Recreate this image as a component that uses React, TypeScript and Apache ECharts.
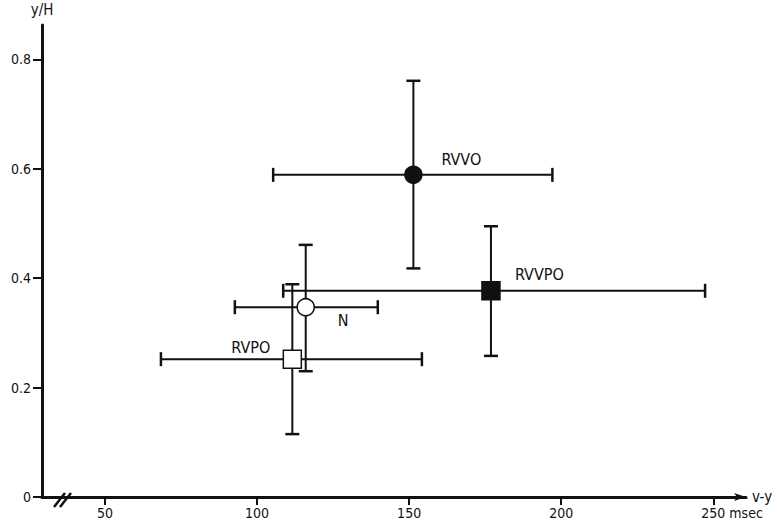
import React, { useEffect, useRef } from "react";
import * as echarts from "echarts";

// Group means with their ranges (v-y interval in msec, y/H ratio)
const groups = ["RVVO", "RVVPO", "N", "RVPO"];
const meanX = [151.4, 176.9, 116.0, 111.6];
const meanY = [0.589, 0.377, 0.347, 0.252];
const xLow = [105.3, 108.6, 92.7, 68.4];
const xHigh = [197.1, 247.3, 139.7, 154.2];
const yLow = [0.418, 0.258, 0.23, 0.115];
const yHigh = [0.761, 0.495, 0.461, 0.389];
const markerShape = ["circle", "square", "circle", "square"];
const markerFilled = [true, true, false, false];

const xTicks = [50, 100, 150, 200, 250];
const yTicks = [0, 0.2, 0.4, 0.6, 0.8];

const FONT = "'DejaVu Sans Condensed', 'Liberation Sans Narrow', sans-serif";
const INK = "#111";

// label placement around each marker: [dx, dy, align]
const labelPlacement: Record<string, [number, number, string]> = {
  RVVO: [28, -15, "left"],
  RVVPO: [24, -16, "left"],
  N: [32, 13, "left"],
  RVPO: [-22, -12, "right"],
};

export default function App() {
  const ref = useRef<HTMLDivElement>(null);

  useEffect(() => {
    document.body.style.margin = "0";
    if (!ref.current) return;
    const chart = echarts.init(ref.current, null, { renderer: "svg" });

    const rows = groups.map((g, i) => [
      meanX[i],
      meanY[i],
      xLow[i],
      xHigh[i],
      yLow[i],
      yHigh[i],
      i,
    ]);

    const CAP = 7;

    const errorBars = (params: any, api: any) => {
      const x = api.value(0);
      const y = api.value(1);
      const c = api.coord([x, y]);
      const l = api.coord([api.value(2), y]);
      const r = api.coord([api.value(3), y]);
      const b = api.coord([x, api.value(4)]);
      const t = api.coord([x, api.value(5)]);
      const ls = { stroke: INK, lineWidth: 2 };
      const cs = { stroke: INK, lineWidth: 2.5 };
      return {
        type: "group",
        children: [
          { type: "line", shape: { x1: l[0], y1: c[1], x2: r[0], y2: c[1] }, style: ls },
          { type: "line", shape: { x1: c[0], y1: t[1], x2: c[0], y2: b[1] }, style: ls },
          { type: "line", shape: { x1: l[0], y1: c[1] - CAP, x2: l[0], y2: c[1] + CAP }, style: cs },
          { type: "line", shape: { x1: r[0], y1: c[1] - CAP, x2: r[0], y2: c[1] + CAP }, style: cs },
          { type: "line", shape: { x1: c[0] - CAP, y1: t[1], x2: c[0] + CAP, y2: t[1] }, style: cs },
          { type: "line", shape: { x1: c[0] - CAP, y1: b[1], x2: c[0] + CAP, y2: b[1] }, style: cs },
        ],
      };
    };

    const markers = (params: any, api: any) => {
      const i = api.value(6);
      const c = api.coord([api.value(0), api.value(1)]);
      const filled = markerFilled[i];
      const style = {
        fill: filled ? INK : "#fff",
        stroke: INK,
        lineWidth: 1.5,
      };
      const mark =
        markerShape[i] === "circle"
          ? { type: "circle", shape: { cx: c[0], cy: c[1], r: 8.5 }, style }
          : { type: "rect", shape: { x: c[0] - 9, y: c[1] - 9, width: 18, height: 18 }, style };
      const [dx, dy, align] = labelPlacement[groups[i]];
      return {
        type: "group",
        children: [
          mark,
          {
            type: "text",
            style: {
              text: groups[i],
              x: c[0] + dx,
              y: c[1] + dy,
              align,
              verticalAlign: "middle",
              fill: INK,
              fontSize: 16,
              fontFamily: FONT,
            },
          },
        ],
      };
    };

    chart.setOption({
      animation: false,
      grid: { left: 42, right: 31, top: 25, bottom: 30, containLabel: false },
      xAxis: {
        type: "value",
        min: 29.3,
        max: 260.75,
        name: "v-y",
        nameLocation: "end",
        nameGap: 6,
        nameTextStyle: {
          color: INK,
          fontSize: 15,
          fontFamily: FONT,
          verticalAlign: "middle",
          padding: [0, 0, 3, 0],
        },
        axisLine: {
          show: true,
          onZero: false,
          symbol: ["none", "arrow"],
          symbolSize: [6, 12],
          lineStyle: { color: INK, width: 3 },
        },
        axisTick: {
          show: true,
          customValues: xTicks,
          length: 8,
          lineStyle: { color: INK, width: 2 },
        },
        axisLabel: {
          customValues: xTicks,
          margin: 9,
          color: INK,
          fontSize: 14,
          fontFamily: FONT,
        },
        splitLine: { show: false },
      },
      yAxis: {
        type: "value",
        min: 0,
        max: 0.863,
        name: "y/H",
        nameLocation: "end",
        nameGap: 8,
        nameTextStyle: { color: INK, fontSize: 15, fontFamily: FONT, align: "center" },
        axisLine: { show: true, onZero: false, lineStyle: { color: INK, width: 3 } },
        axisTick: {
          show: true,
          customValues: yTicks,
          length: 9,
          lineStyle: { color: INK, width: 2 },
        },
        axisLabel: {
          customValues: yTicks,
          margin: 11,
          color: INK,
          fontSize: 14,
          fontFamily: FONT,
          formatter: (v: number) => (v === 0 ? "0" : v.toFixed(1)),
        },
        splitLine: { show: false },
      },
      series: [
        {
          type: "custom",
          renderItem: errorBars,
          data: rows,
          encode: { x: [0, 2, 3], y: [1, 4, 5] },
          z: 2,
        },
        {
          type: "custom",
          renderItem: markers,
          data: rows,
          encode: { x: 0, y: 1 },
          z: 3,
        },
      ],
    });

    // axis break marks and the unit next to the last x label
    const origin = chart.convertToPixel({ gridIndex: 0 }, [29.3, 0]) as number[];
    const last = chart.convertToPixel({ gridIndex: 0 }, [250, 0]) as number[];
    const bx = origin[0] + 12;
    const by = origin[1];
    chart.setOption({
      graphic: [
        {
          type: "line",
          shape: { x1: bx, y1: by + 10, x2: bx + 11, y2: by - 4 },
          style: { stroke: INK, lineWidth: 2.5 },
          z: 10,
        },
        {
          type: "line",
          shape: { x1: bx + 6, y1: by + 10, x2: bx + 17, y2: by - 4 },
          style: { stroke: INK, lineWidth: 2.5 },
          z: 10,
        },
        {
          type: "text",
          x: last[0] + 16,
          y: by + 16,
          style: {
            text: "msec",
            fill: INK,
            fontSize: 14,
            fontFamily: FONT,
            verticalAlign: "middle",
            align: "left",
          },
        },
      ],
    });

    return () => chart.dispose();
  }, []);

  return <div ref={ref} style={{ width: 777, height: 527 }} />;
}
